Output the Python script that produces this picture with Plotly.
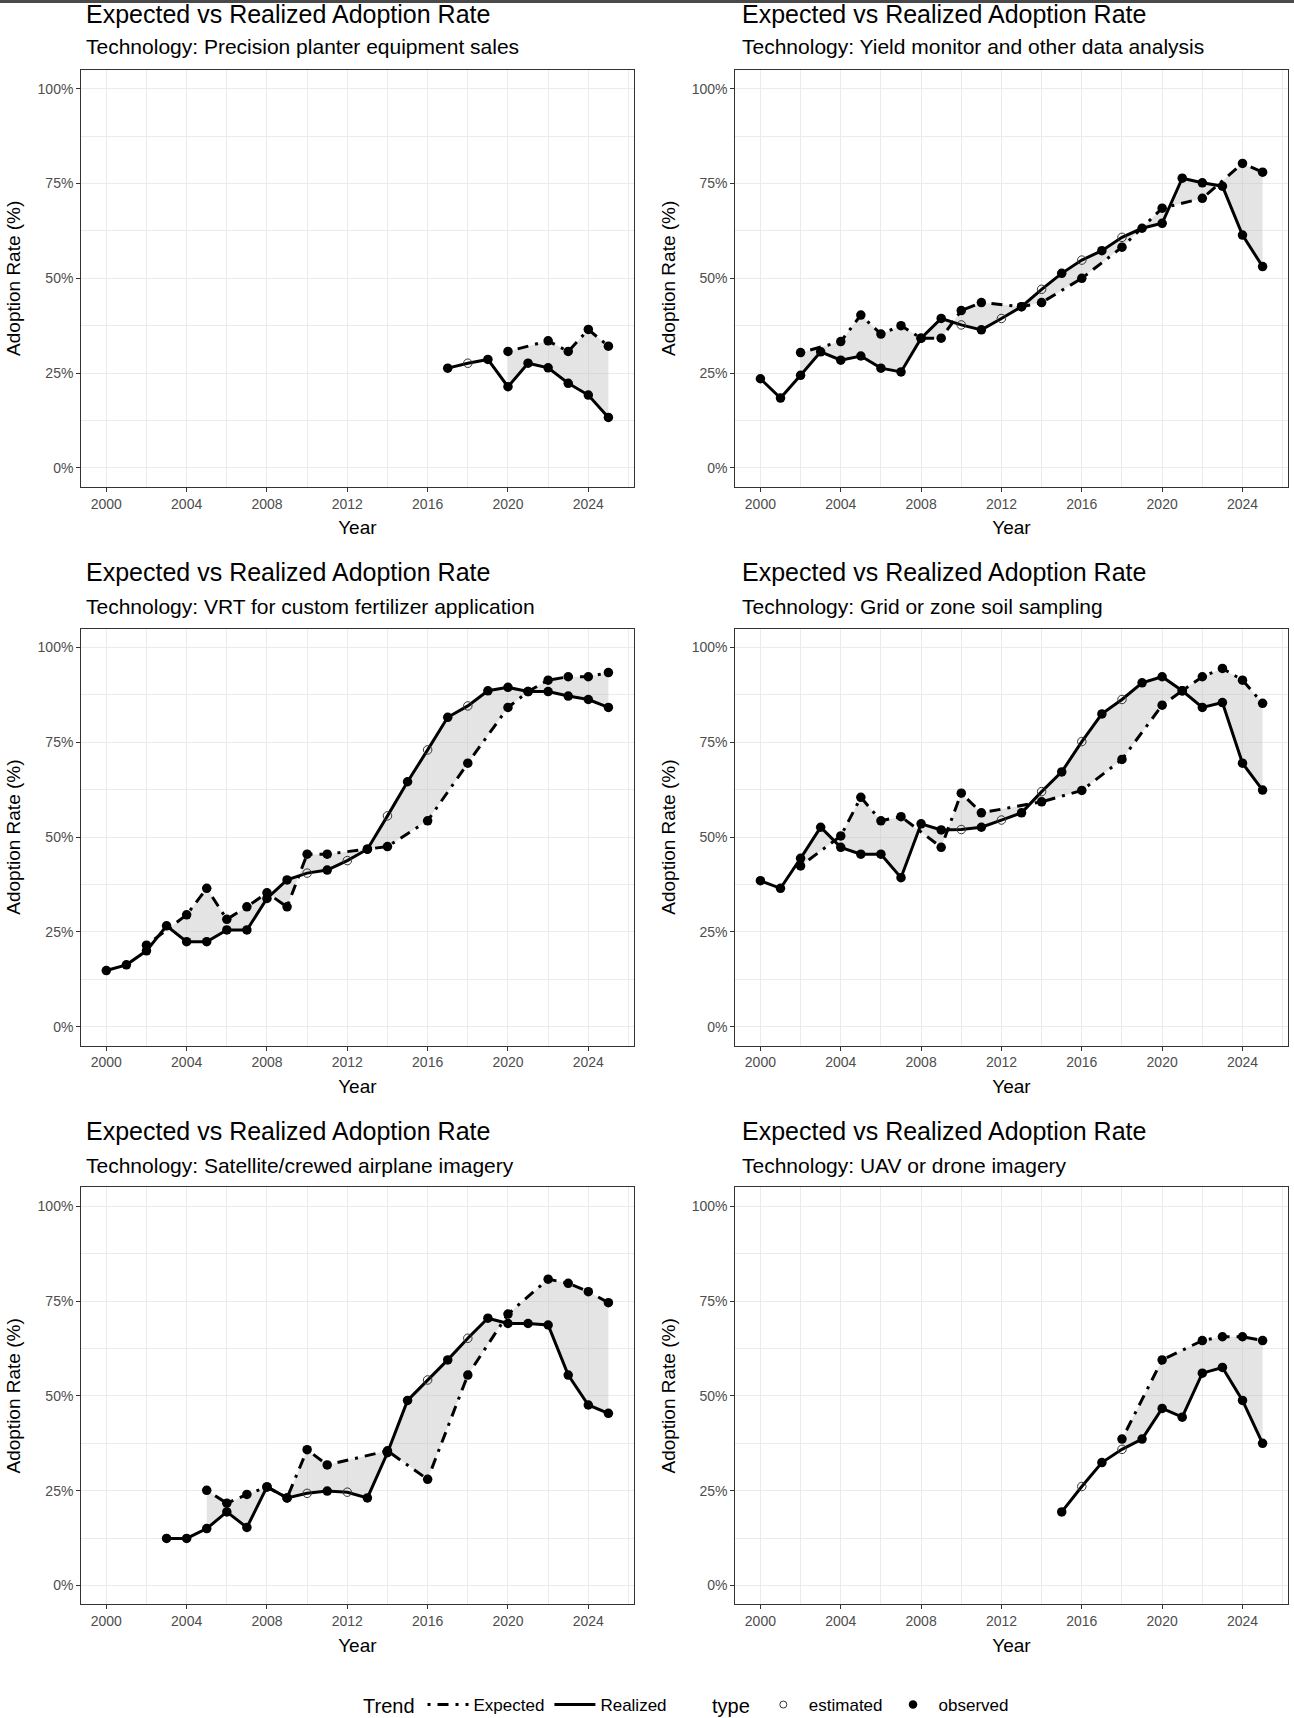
import plotly.graph_objects as go

# ---------------- data ----------------
tech_names = [
    "Precision planter equipment sales",
    "Yield monitor and other data analysis",
    "VRT for custom fertilizer application",
    "Grid or zone soil sampling",
    "Satellite/crewed airplane imagery",
    "UAV or drone imagery",
]

# Realized adoption (%), with point type: "o" = observed, "e" = estimated
planter_years = [2017, 2018, 2019, 2020, 2021, 2022, 2023, 2024, 2025]
planter_realized = [26.3, 27.6, 28.6, 21.4, 27.6, 26.4, 22.3, 19.2, 13.3]
planter_realized_type = ["o", "e", "o", "o", "o", "o", "o", "o", "o"]
planter_exp_years = [2020, 2022, 2023, 2024, 2025]
planter_expected = [30.7, 33.5, 30.7, 36.5, 32.1]

yield_years = list(range(2000, 2026))
yield_realized = [23.5, 18.4, 24.4, 30.6, 28.4, 29.5, 26.3, 25.3, 34.2, 39.4,
                  37.7, 36.4, 39.4, 42.5, 47.1, 51.3, 54.8, 57.3, 60.8, 63.2,
                  64.5, 76.4, 75.2, 74.3, 61.4, 53.1]
yield_realized_type = ["o"] * 10 + ["e", "o", "e", "o", "e", "o", "e", "o", "e", "o"] + ["o"] * 6
yield_exp_years = [2002, 2004, 2005, 2006, 2007, 2008, 2009, 2010, 2011, 2013,
                   2014, 2016, 2018, 2020, 2022, 2024, 2025]
yield_expected = [30.4, 33.3, 40.3, 35.3, 37.5, 34.2, 34.2, 41.5, 43.6, 42.5,
                  43.6, 50.0, 58.2, 68.5, 71.1, 80.3, 78.0]

vrt_years = list(range(2000, 2026))
vrt_realized = [14.8, 16.3, 20.0, 26.6, 22.4, 22.4, 25.5, 25.5, 33.8, 38.7,
                40.5, 41.3, 43.8, 46.8, 55.6, 64.6, 73.0, 81.6, 84.6, 88.6,
                89.5, 88.4, 88.4, 87.2, 86.3, 84.2]
vrt_realized_type = ["o"] * 10 + ["e", "o", "e", "o", "e", "o", "e", "o", "e", "o"] + ["o"] * 6
vrt_exp_years = [2002, 2004, 2005, 2006, 2007, 2008, 2009, 2010, 2011, 2013,
                 2014, 2016, 2018, 2020, 2021, 2022, 2023, 2024, 2025]
vrt_expected = [21.5, 29.5, 36.5, 28.3, 31.6, 35.3, 31.6, 45.5, 45.5, 46.8,
                47.5, 54.3, 69.5, 84.2, 88.4, 91.4, 92.3, 92.3, 93.4]

grid_years = list(range(2000, 2026))
grid_realized = [38.5, 36.5, 44.4, 52.6, 47.3, 45.5, 45.5, 39.3, 53.5, 51.9,
                 52.0, 52.6, 54.5, 56.4, 62.0, 67.2, 75.2, 82.5, 86.3, 90.7,
                 92.3, 88.6, 84.2, 85.5, 69.5, 62.4]
grid_realized_type = ["o"] * 10 + ["e", "o", "e", "o", "e", "o", "e", "o", "e", "o"] + ["o"] * 6
grid_exp_years = [2002, 2004, 2005, 2006, 2007, 2009, 2010, 2011, 2014, 2016,
                  2018, 2020, 2021, 2022, 2023, 2024, 2025]
grid_expected = [42.4, 50.3, 60.5, 54.3, 55.4, 47.3, 61.6, 56.4, 59.3, 62.3,
                 70.5, 84.8, 88.6, 92.3, 94.5, 91.4, 85.3]

sat_years = list(range(2003, 2026))
sat_realized = [12.4, 12.4, 15.0, 19.4, 15.3, 26.0, 23.1, 24.3, 24.9, 24.6,
                23.1, 35.0, 48.8, 54.2, 59.5, 65.2, 70.5, 69.1, 69.1, 68.7,
                55.5, 47.6, 45.4]
sat_realized_type = ["o"] * 7 + ["e", "o", "e", "o", "o", "o", "e", "o", "e", "o"] + ["o"] * 6
sat_exp_years = [2005, 2006, 2007, 2008, 2009, 2010, 2011, 2014, 2016, 2018, 2020,
                 2022, 2023, 2024, 2025]
sat_expected = [25.1, 21.7, 24.0, 26.0, 23.1, 35.8, 31.8, 35.5, 28.0, 55.5, 71.6,
                80.8, 79.7, 77.5, 74.6]

uav_years = list(range(2015, 2026))
uav_realized = [19.4, 26.1, 32.4, 35.9, 38.6, 46.7, 44.4, 56.0, 57.5, 48.8, 37.5]
uav_realized_type = ["o", "e", "o", "e", "o", "o", "o", "o", "o", "o", "o"]
uav_exp_years = [2018, 2020, 2022, 2023, 2024, 2025]
uav_expected = [38.6, 59.5, 64.6, 65.6, 65.6, 64.6]

x_tick_vals = [2000, 2004, 2008, 2012, 2016, 2020, 2024]
x_tick_text = ["2000", "2004", "2008", "2012", "2016", "2020", "2024"]
y_tick_vals = [0, 25, 50, 75, 100]
y_tick_text = ["0%", "25%", "50%", "75%", "100%"]

panels = [
    (planter_years, planter_realized, planter_realized_type, planter_exp_years, planter_expected),
    (yield_years, yield_realized, yield_realized_type, yield_exp_years, yield_expected),
    (vrt_years, vrt_realized, vrt_realized_type, vrt_exp_years, vrt_expected),
    (grid_years, grid_realized, grid_realized_type, grid_exp_years, grid_expected),
    (sat_years, sat_realized, sat_realized_type, sat_exp_years, sat_expected),
    (uav_years, uav_realized, uav_realized_type, uav_exp_years, uav_expected),
]

# ---------------- styling ----------------
FONT = "Liberation Sans, Arial, sans-serif"
W, H = 1294, 1718
col_dom = [(81.2 / W, 633.5 / W), (735.3 / W, 1287.7 / W)]
row_px = [(69.8, 486.8), (628.6, 1045.6), (1187.4, 1604.4)]
row_dom = [(1 - b / H, 1 - t / H) for (t, b) in row_px]

LINE_W = 3
EXP_DASH = "3px,7px,11px,7px"
RIBBON = "rgba(190,190,190,0.42)"

fig = go.Figure()
layout = dict(
    width=W, height=H,
    margin=dict(l=0, r=0, t=0, b=0, autoexpand=False),
    paper_bgcolor="white", plot_bgcolor="white",
    font=dict(family=FONT, color="black"),
    showlegend=True,
    annotations=[], shapes=[],
)

for i, (yrs, real, rtype, eyrs, expv) in enumerate(panels):
    k = i + 1
    xa = "x" if k == 1 else f"x{k}"
    ya = "y" if k == 1 else f"y{k}"
    r, c = divmod(i, 2)

    # ribbon between expected and realized (from first expected year)
    start = eyrs[0]
    sub_x = [x for x in yrs if x >= start]
    sub_y = [v for x, v in zip(yrs, real) if x >= start]
    fig.add_trace(go.Scatter(x=eyrs, y=expv, mode="lines", line=dict(width=0, color="rgba(0,0,0,0)"),
                             xaxis=xa, yaxis=ya, showlegend=False, hoverinfo="skip"))
    fig.add_trace(go.Scatter(x=sub_x, y=sub_y, mode="lines", line=dict(width=0, color="rgba(0,0,0,0)"),
                             fill="tonexty", fillcolor=RIBBON,
                             xaxis=xa, yaxis=ya, showlegend=False, hoverinfo="skip"))
    # lines
    fig.add_trace(go.Scatter(x=yrs, y=real, mode="lines", line=dict(width=LINE_W, color="black"),
                             xaxis=xa, yaxis=ya, showlegend=False, name="Realized"))
    fig.add_trace(go.Scatter(x=eyrs, y=expv, mode="lines",
                             line=dict(width=LINE_W, color="black", dash=EXP_DASH),
                             xaxis=xa, yaxis=ya, showlegend=False, name="Expected"))
    # markers
    obs_x = [x for x, t in zip(yrs, rtype) if t == "o"] + list(eyrs)
    obs_y = [v for v, t in zip(real, rtype) if t == "o"] + list(expv)
    est_x = [x for x, t in zip(yrs, rtype) if t == "e"]
    est_y = [v for v, t in zip(real, rtype) if t == "e"]
    fig.add_trace(go.Scatter(x=obs_x, y=obs_y, mode="markers",
                             marker=dict(size=9.5, color="black", symbol="circle", line=dict(width=0)),
                             xaxis=xa, yaxis=ya, showlegend=False, name="observed"))
    fig.add_trace(go.Scatter(x=est_x, y=est_y, mode="markers",
                             marker=dict(size=8.5, color="#333333", symbol="circle-open", line=dict(width=1)),
                             xaxis=xa, yaxis=ya, showlegend=False, name="estimated"))

    axis_common = dict(
        showline=True, mirror=True, linecolor="#333333", linewidth=1,
        ticks="outside", ticklen=4, tickwidth=1, tickcolor="#333333",
        tickfont=dict(family=FONT, size=14, color="#4d4d4d"),
        showgrid=True, gridcolor="#ebebeb", gridwidth=1.3,
        zeroline=False, automargin=False,
    )
    layout["xaxis" if k == 1 else f"xaxis{k}"] = dict(
        axis_common, domain=list(col_dom[c]), anchor=ya, range=[1998.75, 2026.25],
        tickmode="array", tickvals=x_tick_vals, ticktext=x_tick_text,
        minor=dict(dtick=2, tick0=2000, showgrid=True, gridcolor="#ebebeb", gridwidth=0.7, ticks=""),
        title=dict(text="Year", font=dict(family=FONT, size=19, color="black"), standoff=10),
    )
    layout["yaxis" if k == 1 else f"yaxis{k}"] = dict(
        axis_common, domain=list(row_dom[r]), anchor=xa, range=[-5, 105],
        tickmode="array", tickvals=y_tick_vals, ticktext=y_tick_text,
        minor=dict(dtick=12.5, tick0=0, showgrid=True, gridcolor="#ebebeb", gridwidth=0.7, ticks=""),
        title=dict(text="Adoption Rate (%)", font=dict(family=FONT, size=19, color="black"), standoff=11),
    )

    # titles
    tx = (84.4 if c == 0 else 739.6) / W
    title_y = [14, 572, 1131][r]
    sub_yp = [47, 606, 1165][r]
    layout["annotations"].append(dict(
        text="Expected vs Realized Adoption Rate", x=tx, y=1 - title_y / H,
        xref="paper", yref="paper", xanchor="left", yanchor="middle", showarrow=False,
        font=dict(family=FONT, size=25, color="black")))
    layout["annotations"].append(dict(
        text="Technology: " + tech_names[i], x=tx, y=1 - sub_yp / H,
        xref="paper", yref="paper", xanchor="left", yanchor="middle", showarrow=False,
        font=dict(family=FONT, size=21, color="black")))

# legend-only entries
fig.add_trace(go.Scatter(x=[None], y=[None], mode="lines", name="Expected",
                         line=dict(width=LINE_W, color="black", dash=EXP_DASH), legend="legend"))
fig.add_trace(go.Scatter(x=[None], y=[None], mode="lines", name="Realized",
                         line=dict(width=LINE_W, color="black"), legend="legend"))
fig.add_trace(go.Scatter(x=[None], y=[None], mode="markers", name="estimated",
                         marker=dict(size=7, color="#333333", symbol="circle-open", line=dict(width=1)),
                         legend="legend2"))
fig.add_trace(go.Scatter(x=[None], y=[None], mode="markers", name="observed",
                         marker=dict(size=8.5, color="black", symbol="circle"), legend="legend2"))

legend_common = dict(
    orientation="h", xanchor="left", yanchor="middle", y=1 - 1705 / H,
    bgcolor="rgba(0,0,0,0)", font=dict(family=FONT, size=17, color="black"),
    itemwidth=41, tracegroupgap=0, traceorder="normal",
)
layout["legend"] = dict(legend_common, x=361 / W,
                        title=dict(text="Trend", side="left", font=dict(family=FONT, size=20, color="black")))
layout["legend2"] = dict(legend_common, x=710 / W,
                         title=dict(text="type", side="left", font=dict(family=FONT, size=20, color="black")))

# thin dark band at the very top of the image
layout["shapes"].append(dict(type="rect", xref="paper", yref="paper", x0=0, x1=1,
                             y0=1 - 3 / H, y1=1, fillcolor="#4a4a4a", line=dict(width=0), layer="above"))

fig.update_layout(**layout)
fig.write_html("out.html", config={"displayModeBar": False},
               post_script="document.body.style.margin='0px';")
